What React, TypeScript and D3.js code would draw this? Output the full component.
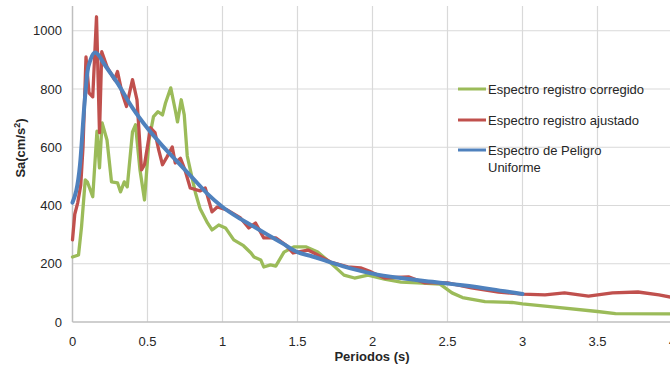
import React from "react";
import * as d3 from "d3";

// spectrum readings: period (s) and Sa (cm/s²)
const corregidoT = [0, 0.04, 0.06, 0.085, 0.1, 0.135, 0.163, 0.18, 0.197, 0.23, 0.26, 0.3, 0.32, 0.345, 0.365, 0.4, 0.42, 0.45, 0.48, 0.51, 0.54, 0.57, 0.6, 0.62, 0.655, 0.685, 0.7, 0.725, 0.745, 0.765, 0.8, 0.82, 0.85, 0.9, 0.93, 0.975, 1.02, 1.075, 1.14, 1.19, 1.21, 1.255, 1.275, 1.32, 1.355, 1.41, 1.475, 1.555, 1.635, 1.72, 1.81, 1.88, 1.97, 2.08, 2.19, 2.3, 2.45, 2.53, 2.6, 2.75, 2.93, 3.0, 3.2, 3.5, 3.62, 4.0];
const corregidoSa = [223, 230, 326, 488, 480, 430, 655, 529, 684, 625, 481, 478, 447, 481, 464, 653, 677, 522, 419, 625, 705, 722, 711, 752, 804, 728, 687, 763, 711, 570, 488, 443, 390, 340, 316, 333, 323, 282, 262, 237, 223, 213, 189, 196, 192, 240, 258, 258, 240, 203, 161, 151, 161, 147, 137, 134, 130, 100, 84, 70, 67, 62, 52, 36, 29, 28];

const ajustadoT = [0, 0.015, 0.035, 0.055, 0.07, 0.09, 0.11, 0.135, 0.16, 0.18, 0.195, 0.23, 0.28, 0.3, 0.33, 0.36, 0.4, 0.43, 0.46, 0.48, 0.52, 0.55, 0.575, 0.6, 0.63, 0.665, 0.685, 0.72, 0.75, 0.785, 0.85, 0.885, 0.93, 0.965, 1.03, 1.12, 1.175, 1.22, 1.275, 1.355, 1.42, 1.47, 1.57, 1.635, 1.72, 1.835, 1.92, 1.99, 2.08, 2.24, 2.35, 2.5, 2.66, 2.84, 3.0, 3.15, 3.28, 3.44, 3.6, 3.77, 3.91, 4.0];
const ajustadoSa = [282, 370, 410, 470, 600, 910, 787, 773, 1048, 650, 928, 876, 832, 860, 787, 740, 832, 763, 522, 540, 667, 650, 590, 540, 567, 601, 546, 562, 522, 460, 450, 460, 378, 395, 385, 357, 323, 340, 289, 289, 265, 237, 247, 230, 206, 189, 186, 172, 151, 155, 134, 134, 117, 103, 96, 93, 100, 89, 100, 103, 93, 84];

const uniformeT = [0, 0.05, 0.08, 0.1, 0.12, 0.15, 0.18, 0.2, 0.3, 0.4, 0.5, 0.6, 0.7, 0.8, 0.9, 1.0, 1.1, 1.2, 1.3, 1.4, 1.5, 1.6, 1.7, 1.8, 1.9, 2.0, 2.2, 2.4, 2.5, 2.6, 2.8, 3.0];
const uniformeSa = [410, 540, 750, 860, 900, 925, 912, 895, 820, 735, 665, 605, 550, 495, 440, 395, 360, 330, 300, 270, 240, 225, 208, 192, 178, 166, 150, 138, 132, 126, 112, 96];

const xTicks = [0, 0.5, 1, 1.5, 2, 2.5, 3, 3.5, 4];
const xTickLabels = ["0", "0.5", "1", "1.5", "2", "2.5", "3", "3.5", "4"];
const yTicks = [0, 200, 400, 600, 800, 1000];

const seriesNames = ["Espectro registro corregido", "Espectro registro ajustado", "Espectro de Peligro Uniforme"];
const seriesColors = ["#9bbb59", "#c0504d", "#4f81bd"];

const font = "'Liberation Sans', Arial, sans-serif";

export default function App() {
  const x = d3.scaleLinear().domain([0, 4]).range([72.5, 672.5]);
  const y = d3.scaleLinear().domain([0, 1085]).range([322, 6]);

  const series = [
    { T: corregidoT, Sa: corregidoSa, curve: d3.curveLinear, w: 3.3 },
    { T: ajustadoT, Sa: ajustadoSa, curve: d3.curveLinear, w: 3.3 },
    { T: uniformeT, Sa: uniformeSa, curve: d3.curveMonotoneX, w: 4 },
  ];

  const paths = series.map((s) =>
    d3
      .line<number>()
      .x((_, i) => x(s.T[i]))
      .y((d) => y(d))
      .curve(s.curve)(s.Sa)
  );

  return (
    <svg width={670} height={370} style={{ position: "absolute", left: 0, top: 0, background: "#fff" }} fontFamily={font}>
      {/* grid */}
      {yTicks.slice(1).map((t) => (
        <line key={"gy" + t} x1={x(0)} x2={x(4)} y1={y(t)} y2={y(t)} stroke="#d9d9d9" strokeWidth={1.2} />
      ))}
      {xTicks.slice(1).map((t) => (
        <line key={"gx" + t} x1={x(t)} x2={x(t)} y1={y(1085)} y2={y(0)} stroke="#d9d9d9" strokeWidth={1.2} />
      ))}
      {/* axes */}
      <line x1={x(0)} x2={x(0)} y1={y(1085)} y2={y(0)} stroke="#bfbfbf" strokeWidth={1.5} />
      <line x1={x(0)} x2={x(4)} y1={y(0)} y2={y(0)} stroke="#bfbfbf" strokeWidth={1.5} />

      {yTicks.map((t) => (
        <text key={"ty" + t} x={62} y={y(t)} dy="0.35em" textAnchor="end" fontSize={13} fill="#262626">
          {t}
        </text>
      ))}
      {xTicks.map((t, i) => (
        <text key={"tx" + t} x={x(t)} y={346} textAnchor="middle" fontSize={13} fill="#262626">
          {xTickLabels[i]}
        </text>
      ))}

      <text x={372} y={361} textAnchor="middle" fontSize={13} fontWeight="bold" fill="#262626">
        Periodos (s)
      </text>
      <text transform="translate(25,148) rotate(-90)" textAnchor="middle" fontSize={13} fontWeight="bold" fill="#262626">
        Sa(cm/s<tspan fontSize={9} dy={-5}>2</tspan><tspan dy={5}>)</tspan>
      </text>

      {paths.map((d, i) => (
        <path key={"p" + i} d={d ?? ""} fill="none" stroke={seriesColors[i]} strokeWidth={series[i].w} strokeLinejoin="round" strokeLinecap="round" />
      ))}

      {/* legend */}
      {[89, 120, 150].map((ly, i) => (
        <g key={"lg" + i}>
          <line x1={458} x2={486} y1={ly} y2={ly} stroke={seriesColors[i]} strokeWidth={3} />
          <text x={488} y={ly} dy="0.35em" fontSize={13} fill="#262626">
            {i < 2 ? seriesNames[i] : "Espectro de Peligro"}
          </text>
        </g>
      ))}
      <text x={488} y={167} dy="0.35em" fontSize={13} fill="#262626">
        Uniforme
      </text>
    </svg>
  );
}
